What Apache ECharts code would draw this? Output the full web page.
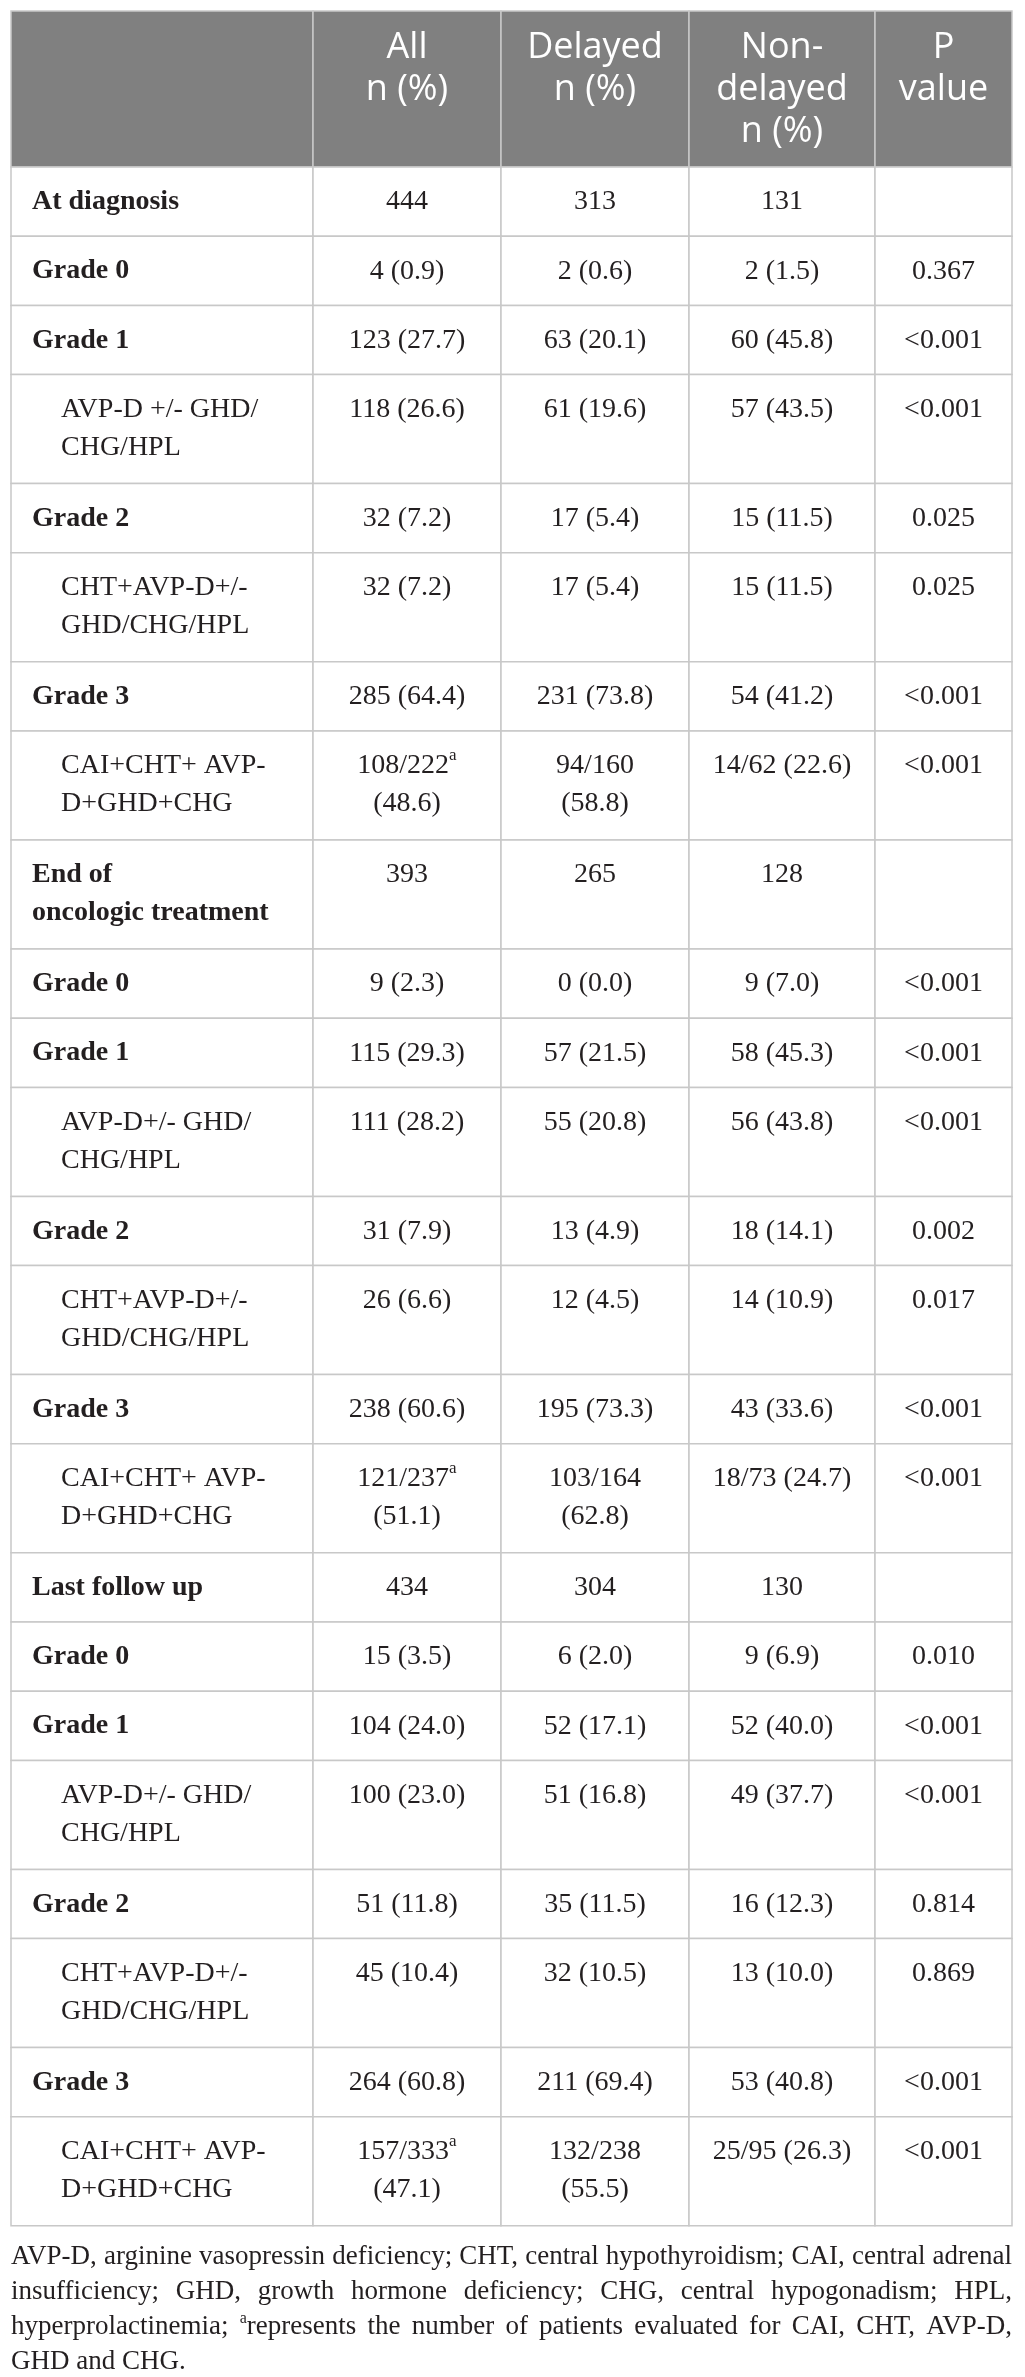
<!DOCTYPE html>
<html>
<head>
<meta charset="utf-8">
<script src="https://cdn.jsdelivr.net/npm/echarts@6/dist/echarts.min.js"></script>
<style>
html, body { margin: 0; padding: 0; background: #fff; }
#table { width: 1025px; height: 2377px; }
</style>
</head>
<body>
<div id="table"></div>
<script>
// column headers
var headers = ['', 'All\nn (%)', 'Delayed\nn (%)', 'Non-\ndelayed\nn (%)', 'P\nvalue'];

// row labels (\n = line break as printed)
var rowLabels = [
  'At diagnosis', 'Grade 0', 'Grade 1', 'AVP-D +/- GHD/\nCHG/HPL', 'Grade 2',
  'CHT+AVP-D+/-\nGHD/CHG/HPL', 'Grade 3', 'CAI+CHT+ AVP-\nD+GHD+CHG',
  'End of\noncologic treatment', 'Grade 0', 'Grade 1', 'AVP-D+/- GHD/\nCHG/HPL', 'Grade 2',
  'CHT+AVP-D+/-\nGHD/CHG/HPL', 'Grade 3', 'CAI+CHT+ AVP-\nD+GHD+CHG',
  'Last follow up', 'Grade 0', 'Grade 1', 'AVP-D+/- GHD/\nCHG/HPL', 'Grade 2',
  'CHT+AVP-D+/-\nGHD/CHG/HPL', 'Grade 3', 'CAI+CHT+ AVP-\nD+GHD+CHG'
];
// 1 = indented sub row (regular), 0 = bold row
var subRow = [0,0,0,1,0,1,0,1, 0,0,0,1,0,1,0,1, 0,0,0,1,0,1,0,1];

var allN = [
  '444', '4 (0.9)', '123 (27.7)', '118 (26.6)', '32 (7.2)', '32 (7.2)', '285 (64.4)', '108/222^a\n(48.6)',
  '393', '9 (2.3)', '115 (29.3)', '111 (28.2)', '31 (7.9)', '26 (6.6)', '238 (60.6)', '121/237^a\n(51.1)',
  '434', '15 (3.5)', '104 (24.0)', '100 (23.0)', '51 (11.8)', '45 (10.4)', '264 (60.8)', '157/333^a\n(47.1)'
];
var delayedN = [
  '313', '2 (0.6)', '63 (20.1)', '61 (19.6)', '17 (5.4)', '17 (5.4)', '231 (73.8)', '94/160\n(58.8)',
  '265', '0 (0.0)', '57 (21.5)', '55 (20.8)', '13 (4.9)', '12 (4.5)', '195 (73.3)', '103/164\n(62.8)',
  '304', '6 (2.0)', '52 (17.1)', '51 (16.8)', '35 (11.5)', '32 (10.5)', '211 (69.4)', '132/238\n(55.5)'
];
var nonDelayedN = [
  '131', '2 (1.5)', '60 (45.8)', '57 (43.5)', '15 (11.5)', '15 (11.5)', '54 (41.2)', '14/62 (22.6)',
  '128', '9 (7.0)', '58 (45.3)', '56 (43.8)', '18 (14.1)', '14 (10.9)', '43 (33.6)', '18/73 (24.7)',
  '130', '9 (6.9)', '52 (40.0)', '49 (37.7)', '16 (12.3)', '13 (10.0)', '53 (40.8)', '25/95 (26.3)'
];
var pValues = [
  '', '0.367', '<0.001', '<0.001', '0.025', '0.025', '<0.001', '<0.001',
  '', '<0.001', '<0.001', '<0.001', '0.002', '0.017', '<0.001', '<0.001',
  '', '0.010', '<0.001', '<0.001', '0.814', '0.869', '<0.001', '<0.001'
];

// footnote, broken as printed; last line is not justified
var footLines = [
  'AVP-D, arginine vasopressin deficiency; CHT, central hypothyroidism; CAI, central adrenal',
  'insufficiency; GHD, growth hormone deficiency; CHG, central hypogonadism; HPL,',
  'hyperprolactinemia; ^arepresents the number of patients evaluated for CAI, CHT, AVP-D,',
  'GHD and CHG.'
];

// layout
var TABLE_LEFT = 11, TABLE_TOP = 11;
var colWidths = [302, 188, 188, 186, 137];
var HEADER_H = 156, ROW_BASE = 69.2, ROW_EXTRA = 39.8;
var SERIF = '"Liberation Serif", "Times New Roman", serif';
var SANS = '"Open Sans", "Noto Sans", sans-serif';
var INK = '#231f20';

var xs = [0];
colWidths.forEach(function (w, i) { xs.push(xs[i] + w); });
var tableW = xs[xs.length - 1];

var cells = [];
headers.forEach(function (h, c) {
  cells.push({ x0: xs[c], x1: xs[c + 1], y0: 0, y1: HEADER_H, text: h, head: true, col: c });
});
var y = HEADER_H;
rowLabels.forEach(function (lab, r) {
  var texts = [lab, allN[r], delayedN[r], nonDelayedN[r], pValues[r]];
  var lines = Math.max.apply(null, texts.map(function (t) { return t.split('\n').length; }));
  var h = ROW_BASE + ROW_EXTRA * (lines - 1);
  texts.forEach(function (t, c) {
    cells.push({ x0: xs[c], x1: xs[c + 1], y0: y, y1: y + h, text: t, head: false, col: c, sub: subRow[r] === 1 });
  });
  y += h;
});
var tableH = y;

function renderCell(params, api) {
  var cell = cells[params.dataIndex];
  var p0 = api.coord([api.value(0), api.value(1)]);
  var p1 = api.coord([api.value(2), api.value(3)]);
  var w = p1[0] - p0[0], h = p1[1] - p0[1];
  var children = [{
    type: 'rect',
    shape: { x: p0[0], y: p0[1], width: w, height: h },
    style: { fill: cell.head ? '#808080' : '#fff', stroke: '#c8c8c8', lineWidth: 1.5 }
  }];
  if (cell.text) {
    var st;
    if (cell.head) {
      st = { text: cell.text, fill: '#fff', fontFamily: SANS, fontSize: 36, lineHeight: 42,
             align: 'center', verticalAlign: 'top' };
      children.push({ type: 'text', x: p0[0] + w / 2, y: p0[1] + 16, style: st });
    } else {
      st = {
        text: cell.text.replace(/\^a/g, '{sup|a}'),
        fill: INK, fontFamily: SERIF, fontSize: 28, lineHeight: 38,
        fontWeight: (cell.col === 0 && !cell.sub) ? 'bold' : 'normal',
        verticalAlign: 'top',
        align: cell.col === 0 ? 'left' : 'center',
        rich: { sup: { fontSize: 17, fontFamily: SERIF, fill: INK, lineHeight: 22, verticalAlign: 'top' } }
      };
      var tx = cell.col === 0 ? p0[0] + (cell.sub ? 50 : 21) : p0[0] + w / 2;
      children.push({ type: 'text', x: tx, y: p0[1] + 16, style: st });
    }
  }
  return { type: 'group', children: children };
}

// footnote: justified lines built from words
var ctx = document.createElement('canvas').getContext('2d');
var FOOT_W = tableW;
var footSize = 27;
var supSize = 16;
function measure(t, size) { ctx.font = size + 'px ' + SERIF; return ctx.measureText(t).width; }
function wordWidth(wd) {
  if (wd.indexOf('^a') === 0) return measure('a', supSize) + measure(wd.slice(2), footSize);
  return measure(wd, footSize);
}
// squeeze glyphs horizontally only if a justified line cannot fit with a minimal space
var minGap = footSize * 0.16;
var squeeze = 1;
footLines.slice(0, footLines.length - 1).forEach(function (line) {
  var words = line.split(' ');
  var sum = words.map(wordWidth).reduce(function (a, b) { return a + b; }, 0);
  var room = FOOT_W - minGap * (words.length - 1);
  if (sum > room) squeeze = Math.min(squeeze, room / sum);
});

var footGraphics = [];
var footTop = TABLE_TOP + tableH + 31;
footLines.forEach(function (line, i) {
  var cy = footTop + i * 35;
  var words = line.split(' ');
  var widths = words.map(function (wd) { return wordWidth(wd) * squeeze; });
  var sum = widths.reduce(function (a, b) { return a + b; }, 0);
  var justify = i < footLines.length - 1;
  var gap = justify ? (FOOT_W - sum) / (words.length - 1) : measure(' ', footSize) * squeeze;
  var x = TABLE_LEFT;
  words.forEach(function (wd, k) {
    var word = wd;
    var start = x;
    if (wd.indexOf('^a') === 0) {
      footGraphics.push({ type: 'text', x: x, y: cy - footSize * 0.28, scaleX: squeeze,
        style: { text: 'a', fontSize: supSize, fontFamily: SERIF, fill: INK, verticalAlign: 'middle', align: 'left' } });
      x += measure('a', supSize) * squeeze;
      word = wd.slice(2);
    }
    footGraphics.push({ type: 'text', x: x, y: cy, scaleX: squeeze,
      style: { text: word, fontSize: footSize, fontFamily: SERIF, fill: INK, verticalAlign: 'middle', align: 'left' } });
    x = start + widths[k] + gap;
  });
});

var myChart = echarts.init(document.getElementById('table'), null, { renderer: 'canvas' });
var option = {
  animation: false,
  backgroundColor: '#fff',
  grid: { left: TABLE_LEFT, top: TABLE_TOP, width: tableW, height: tableH },
  xAxis: { type: 'value', min: 0, max: tableW, show: false },
  yAxis: { type: 'value', min: 0, max: tableH, inverse: true, show: false },
  series: [{
    type: 'custom',
    renderItem: renderCell,
    clip: false,
    encode: { x: [0, 2], y: [1, 3] },
    data: cells.map(function (c) { return [c.x0, c.y0, c.x1, c.y1]; })
  }],
  graphic: footGraphics
};
myChart.setOption(option);
</script>
</body>
</html>
